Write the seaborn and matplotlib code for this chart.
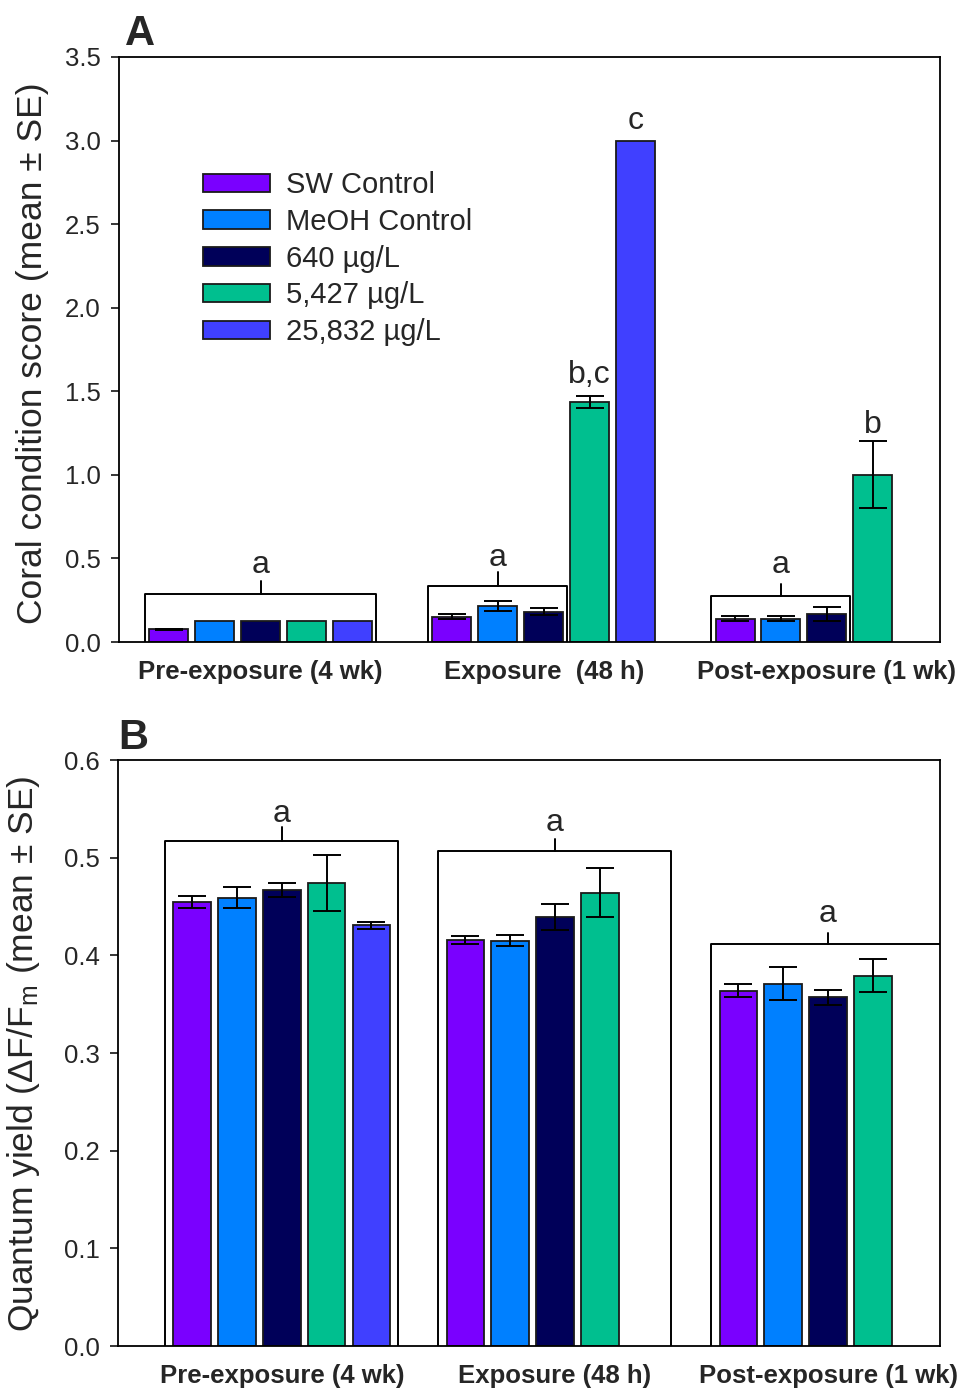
import matplotlib
matplotlib.use('Agg')
import matplotlib.pyplot as plt
import numpy as np
import pandas as pd
import seaborn as sns

# groups / treatments
phases_A = ["Pre-exposure (4 wk)", "Exposure  (48 h)", "Post-exposure (1 wk)"]
phases_B = ["Pre-exposure (4 wk)", "Exposure (48 h)", "Post-exposure (1 wk)"]
treatments = ["SW Control", "MeOH Control", "640 µg/L", "5,427 µg/L", "25,832 µg/L"]
colors = ["#7a00ff", "#0080ff", "#000059", "#00bf8f", "#4040ff"]

# Panel A: coral condition score (mean, SE); None = not measured
sw_score = [0.075, 0.15, 0.14]
meoh_score = [0.125, 0.214, 0.14]
c640_score = [0.125, 0.181, 0.168]
c5427_score = [0.125, 1.434, 1.0]
c25832_score = [0.125, 3.0, None]
sw_score_se = [0.005, 0.015, 0.013]
meoh_score_se = [0.0, 0.03, 0.013]
c640_score_se = [0.0, 0.02, 0.04]
c5427_score_se = [0.0, 0.035, 0.2]
c25832_score_se = [0.0, 0.0, None]

# Panel B: quantum yield (mean, SE)
sw_qy = [0.455, 0.416, 0.364]
meoh_qy = [0.459, 0.415, 0.371]
c640_qy = [0.467, 0.439, 0.357]
c5427_qy = [0.474, 0.464, 0.379]
c25832_qy = [0.431, None, None]
sw_qy_se = [0.006, 0.004, 0.007]
meoh_qy_se = [0.011, 0.0055, 0.017]
c640_qy_se = [0.007, 0.0135, 0.0075]
c5427_qy_se = [0.029, 0.025, 0.017]
c25832_qy_se = [0.0035, None, None]

# significance brackets: (group, first hue, last hue, bracket y, stem top y, letter, letter baseline y)
brackets_A = [(0, 0, 4, 0.285, 0.365, "a", 0.41),
              (1, 0, 2, 0.335, 0.42, "a", 0.457),
              (2, 0, 2, 0.277, 0.347, "a", 0.41)]
letters_A = [(1, 3, "b,c", 1.548), (1, 4, "c", 3.07), (2, 3, "b", 1.249)]
brackets_B = [(0, 0, 4, 0.517, 0.531, "a", 0.537),
              (1, 0, 4, 0.507, 0.519, "a", 0.527),
              (2, 0, 4, 0.4116, 0.4225, "a", 0.4345)]


def build_frame(phases, means, ses):
    rows = []
    for t, m_list, s_list in zip(treatments, means, ses):
        for p, m, s in zip(phases, m_list, s_list):
            if m is None:
                continue
            rows.append({"phase": p, "treatment": t, "mean": m, "se": s})
    return pd.DataFrame(rows)


def bar_edges(g, h, width, gap):
    slot = width / len(treatments)
    left = g - width / 2 + h * slot + slot * gap / 2
    return left, left + slot * (1 - gap)


def draw_panel(ax, df, phases, width, gap, show_legend):
    sns.barplot(data=df, x="phase", y="mean", hue="treatment", order=phases,
                hue_order=treatments, palette=colors, width=width, gap=gap,
                errorbar=None, edgecolor="#1a1a1a", linewidth=1.3, saturation=1,
                legend=show_legend, ax=ax)
    slot = width / len(treatments)
    for container in list(ax.containers):
        for bar in container:
            xc = bar.get_x() + bar.get_width() / 2
            g = int(round(xc))
            h = int(round((xc - g + width / 2) / slot - 0.5))
            row = df[(df.phase == phases[g]) & (df.treatment == treatments[h])].iloc[0]
            if row["se"] > 0:
                ax.errorbar(xc, row["mean"], yerr=row["se"], fmt="none", ecolor="black",
                            elinewidth=1.4, capsize=10, capthick=1.4, zorder=5)
    ax.tick_params(axis="x", length=0, pad=13)
    ax.tick_params(axis="y", length=6, width=1.3, pad=7, labelsize=18.5)
    for lab in ax.get_xticklabels():
        lab.set_fontweight("bold")
        lab.set_fontsize(18.5)
    for s in ax.spines.values():
        s.set_linewidth(1.3)
        s.set_color("black")
    ax.set_xlabel("")


def draw_brackets(ax, brackets, width, gap, pad):
    for g, h0, h1, yb, ys, letter, yl in brackets:
        x0 = bar_edges(g, h0, width, gap)[0] - pad
        x1 = bar_edges(g, h1, width, gap)[1] + pad
        xm = (x0 + x1) / 2
        ax.plot([x0, x0, x1, x1], [0, yb, yb, 0], color="black", lw=1.4, zorder=4)
        ax.plot([xm, xm], [yb, ys], color="black", lw=1.4, zorder=4)
        ax.text(xm, yl, letter, ha="center", va="baseline", fontsize=23)


sns.set_style("ticks")
plt.rcParams['font.family'] = ['Liberation Sans', 'DejaVu Sans']
plt.rcParams['mathtext.fontset'] = 'custom'
plt.rcParams['mathtext.rm'] = 'Liberation Sans'
plt.rcParams['mathtext.it'] = 'Liberation Sans:italic'

fig = plt.figure(figsize=(9.63, 13.93), dpi=100)
axA = fig.add_axes([0.1236, 0.5391, 0.8525, 0.42])
axB = fig.add_axes([0.1225, 0.0337, 0.8536, 0.4207])

# Panel A
wA, gA = 0.81, 0.15
dfA = build_frame(phases_A,
                  [sw_score, meoh_score, c640_score, c5427_score, c25832_score],
                  [sw_score_se, meoh_score_se, c640_score_se, c5427_score_se, c25832_score_se])
draw_panel(axA, dfA, phases_A, wA, gA, True)
axA.set_xlim(-0.5, 2.4)
axA.set_ylim(0, 3.5)
axA.set_yticks(np.arange(0, 3.51, 0.5))
axA.yaxis.set_major_formatter(matplotlib.ticker.FormatStrFormatter("%.1f"))
axA.set_ylabel("Coral condition score (mean ± SE)", fontsize=25.5)
axA.yaxis.set_label_coords(-0.085, 0.494)
draw_brackets(axA, brackets_A, wA, gA, 0.015)
for g, h, letter, yl in letters_A:
    x0, x1 = bar_edges(g, h, wA, gA)
    axA.text((x0 + x1) / 2, yl, letter, ha="center", va="baseline", fontsize=23)
handles, labels = axA.get_legend_handles_labels()
axA.legend(handles, labels, loc="upper left", bbox_to_anchor=(0.102, 0.805),
           frameon=False, fontsize=21, handlelength=2.3, handleheight=0.6,
           handletextpad=0.55, labelspacing=0.3, borderpad=0, borderaxespad=0)

# Panel B
wB, gB = 0.82, 0.16
dfB = build_frame(phases_B,
                  [sw_qy, meoh_qy, c640_qy, c5427_qy, c25832_qy],
                  [sw_qy_se, meoh_qy_se, c640_qy_se, c5427_qy_se, c25832_qy_se])
draw_panel(axB, dfB, phases_B, wB, gB, False)
axB.set_xlim(-0.6, 2.41)
axB.set_ylim(0, 0.6)
axB.set_yticks(np.arange(0, 0.61, 0.1))
axB.yaxis.set_major_formatter(matplotlib.ticker.FormatStrFormatter("%.1f"))
axB.set_ylabel("Quantum yield (ΔF/F$_{\\mathrm{m}}$ (mean ± SE)", fontsize=25.5)
axB.yaxis.set_label_coords(-0.093, 0.498)
draw_brackets(axB, brackets_B, wB, gB, 0.03)

fig.text(0.13, 0.9677, "A", fontsize=30, fontweight="bold", va="baseline")
fig.text(0.1225, 0.4623, "B", fontsize=30, fontweight="bold", va="baseline")

plt.savefig("out.png", dpi=100)
plt.close()
